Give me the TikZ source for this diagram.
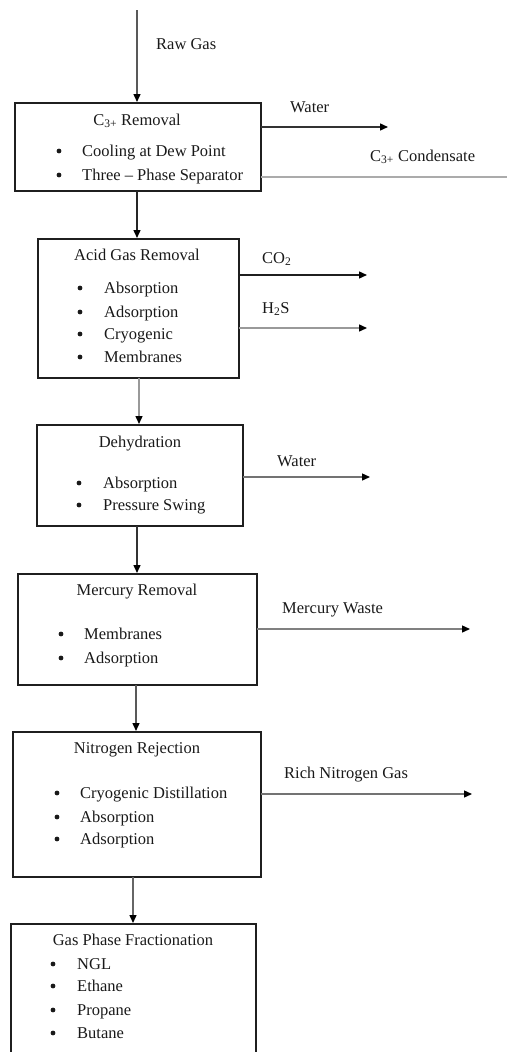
\documentclass[tikz,border=0pt]{standalone}
\usepackage{fontspec}
\setmainfont{Liberation Serif}
\usetikzlibrary{arrows.meta}
\begin{document}
\begin{tikzpicture}[x=1pt,y=-1pt,
  box/.style={draw=black!88,line width=1.4pt,inner sep=0pt,outer sep=0pt},
  txt/.style={inner sep=0pt,font=\fontsize{16.5}{19}\selectfont,text=black!90,yshift=-3pt},
  title/.style={txt,anchor=mid},
  item/.style={txt,anchor=mid west},
  dot/.style={circle,fill=black!90,inner sep=0pt,minimum size=4.8pt},
  flow/.style={line width=1.4pt,shorten >=1pt,
    -{Triangle[length=8pt,width=7pt,color=black]}},
  feed/.style={line width=1.6pt},
]
\useasboundingbox (0,0) rectangle (507,1052);
\clip (0,0) rectangle (507,1052);

% process units
\node[box,minimum width=246pt,minimum height=88pt]  (b1) at (138,147)   {};
\node[box,minimum width=201pt,minimum height=139pt] (b2) at (138.5,308.5) {};
\node[box,minimum width=206pt,minimum height=101pt] (b3) at (140,475.5) {};
\node[box,minimum width=239pt,minimum height=111pt] (b4) at (137.5,629.5) {};
\node[box,minimum width=248pt,minimum height=145pt] (b5) at (137,804.5) {};
\node[box,minimum width=245pt,minimum height=146pt] (b6) at (133.5,997)  {};

% unit titles
\node[title] (t1) at (137,120) {C\textsubscript{3+} Removal};
\node[title] (t2) at (137,255) {Acid Gas Removal};
\node[title] (t3) at (140,442) {Dehydration};
\node[title] (t4) at (137,590) {Mercury Removal};
\node[title] (t5) at (137,748) {Nitrogen Rejection};
\node[title] (t6) at (133,940) {Gas Phase Fractionation};

% bullet lists
\foreach \y/\s [count=\i] in {151/Cooling at Dew Point,175/Three -- Phase Separator}{
  \node[dot] (d1\i) at (59,\y) {};
  \node[item] (i1\i) at (82,\y) {\s};}
\foreach \y/\s [count=\i] in {288/Absorption,312/Adsorption,334/Cryogenic,357/Membranes}{
  \node[dot] (d2\i) at (80,\y) {};
  \node[item] (i2\i) at (104,\y) {\s};}
\foreach \y/\s [count=\i] in {483/Absorption,505/Pressure Swing}{
  \node[dot] (d3\i) at (79,\y) {};
  \node[item] (i3\i) at (103,\y) {\s};}
\foreach \y/\s [count=\i] in {634/Membranes,658/Adsorption}{
  \node[dot] (d4\i) at (61,\y) {};
  \node[item] (i4\i) at (84,\y) {\s};}
\foreach \y/\s [count=\i] in {793/Cryogenic Distillation,817/Absorption,839/Adsorption}{
  \node[dot] (d5\i) at (57,\y) {};
  \node[item] (i5\i) at (80,\y) {\s};}
\foreach \y/\s [count=\i] in {964/NGL,986/Ethane,1010/Propane,1033/Butane}{
  \node[dot] (d6\i) at (53,\y) {};
  \node[item] (i6\i) at (77,\y) {\s};}

% stream end points
\coordinate (raw)  at (137,10);
\coordinate (w1)   at (389,127);
\coordinate (cond) at (507,177);
\coordinate (co2)  at (368,275);
\coordinate (h2s)  at (368,328);
\coordinate (w2)   at (371,477);
\coordinate (hg)   at (471,629);
\coordinate (n2)   at (473,794);

% main gas path
\draw[flow,draw=black!65] (raw) -- (b1.north -| raw);
\draw[flow,draw=black!85] (b1.south -| 137,0) -- (b2.north -| 137,0);
\draw[flow,draw=black!40] (b2.south -| 139,0) -- (b3.north -| 139,0);
\draw[flow,draw=black!80] (b3.south -| 137,0) -- (b4.north -| 137,0);
\draw[flow,draw=black!65] (b4.south -| 136,0) -- (b5.north -| 136,0);
\draw[flow,draw=black!60] (b5.south -| 133,0) -- (b6.north -| 133,0);

% side streams
\draw[flow,draw=black!80] (b1.east |- w1) -- (w1);
\draw[feed,draw=black!33] (b1.east |- cond) -- (cond);
\draw[flow,draw=black!88] (b2.east |- co2) -- (co2);
\draw[flow,draw=black!40] (b2.east |- h2s) -- (h2s);
\draw[flow,draw=black!55] (b3.east |- w2) -- (w2);
\draw[flow,draw=black!50] (b4.east |- hg) -- (hg);
\draw[flow,draw=black!55] (b5.east |- n2) -- (n2);

% stream labels
\node[item] (lraw)  at (156,44)  {Raw Gas};
\node[item] (lw1)   at (290,107) {Water};
\node[item] (lcond) at (370,156) {C\textsubscript{3+} Condensate};
\node[item] (lco2)  at (262,258) {CO\textsubscript{2}};
\node[item] (lh2s)  at (262,308) {H\textsubscript{2}S};
\node[item] (lw2)   at (277,461) {Water};
\node[item] (lhg)   at (282,608) {Mercury Waste};
\node[item] (ln2)   at (284,773) {Rich Nitrogen Gas};
\end{tikzpicture}
\end{document}
